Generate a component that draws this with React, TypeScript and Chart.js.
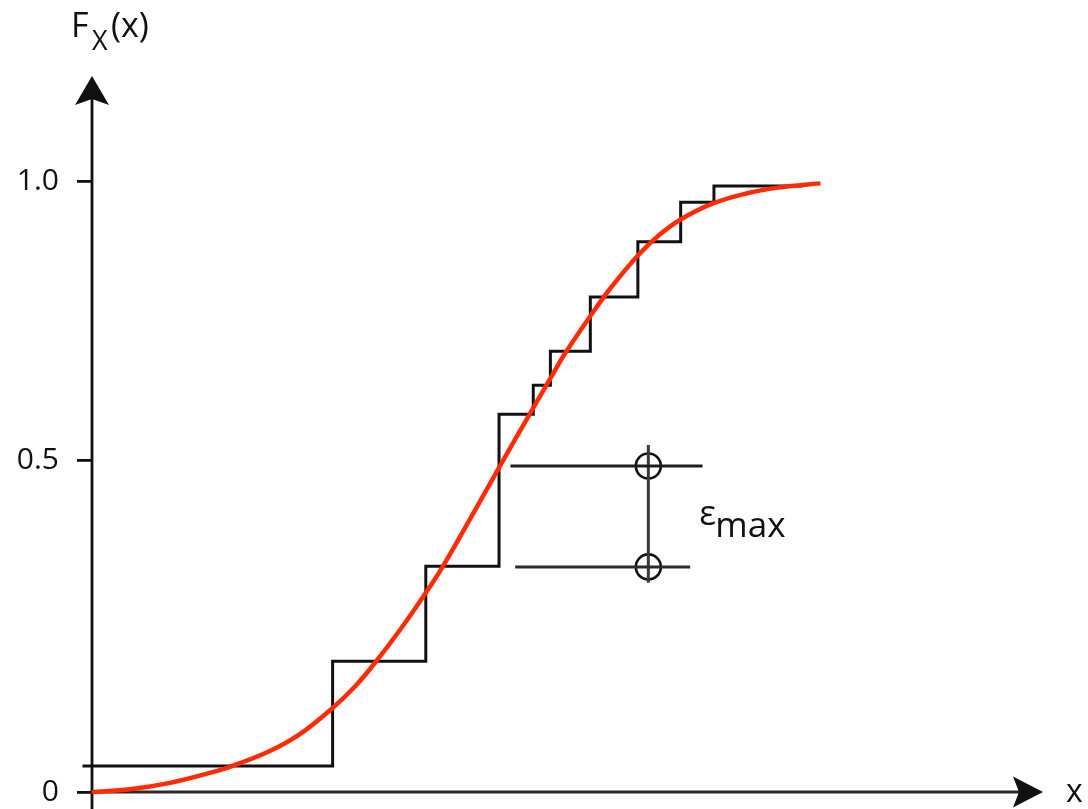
import React, { useEffect, useRef } from 'react';
import { Chart, LinearScale, registerables } from 'chart.js';

// ---- data ----
const Y_TICK_VALUES = [0, 0.5, 1.0];
const Y_TICK_LABELS = ['0', '0.5', '1.0'];

// empirical CDF: jump positions and levels
const STEP_X = [-0.1, 2.53, 3.51, 4.28, 4.64, 4.82, 5.24, 5.74, 6.19, 6.54, 7.47];
const STEP_Y = [0.039, 0.197, 0.34, 0.582, 0.634, 0.695, 0.792, 0.891, 0.962, 0.991, 0.991];

// theoretical CDF (red curve)
const CURVE_X = [0, 0.4, 0.82, 1.24, 1.48, 1.87, 2.19, 2.53, 2.77, 2.97, 3.24, 3.5, 3.69, 3.97, 4.28, 4.61, 4.82, 4.97, 5.24, 5.45, 5.74, 5.97, 6.19, 6.53, 6.89, 7.23, 7.66];
const CURVE_Y = [0, 0.0041, 0.0137, 0.0288, 0.0395, 0.0617, 0.0875, 0.1265, 0.1596, 0.1935, 0.2444, 0.2979, 0.3399, 0.4098, 0.4884, 0.5846, 0.6462, 0.6898, 0.7579, 0.8073, 0.8665, 0.9039, 0.931, 0.9597, 0.978, 0.9885, 0.9957];

// epsilon max marker
const EPS_X = 5.85;
const EPS_UPPER = 0.491;
const EPS_LOWER = 0.339;
const EPS_UPPER_SPAN = [4.4, 6.42];
const EPS_LOWER_SPAN = [4.45, 6.29];
const EPS_BAR = [0.527, 0.315];

// ---- axis geometry: the schematic's value axis is drawn with unequal spacing ----
const KNOT_VALUES = [0, 0.5, 1.0];
const KNOT_FRACS = [0, 0.4637, 0.8534];

function valueToFrac(v: number): number {
  const n = KNOT_VALUES.length;
  let i = 0;
  if (v >= KNOT_VALUES[n - 1]) i = n - 2;
  else while (i < n - 2 && v > KNOT_VALUES[i + 1]) i++;
  const v0 = KNOT_VALUES[i], v1 = KNOT_VALUES[i + 1];
  const f0 = KNOT_FRACS[i], f1 = KNOT_FRACS[i + 1];
  return f0 + ((v - v0) * (f1 - f0)) / (v1 - v0);
}
function fracToValue(f: number): number {
  const n = KNOT_FRACS.length;
  let i = 0;
  if (f >= KNOT_FRACS[n - 1]) i = n - 2;
  else while (i < n - 2 && f > KNOT_FRACS[i + 1]) i++;
  const v0 = KNOT_VALUES[i], v1 = KNOT_VALUES[i + 1];
  const f0 = KNOT_FRACS[i], f1 = KNOT_FRACS[i + 1];
  return v0 + ((f - f0) * (v1 - v0)) / (f1 - f0);
}
const Y_MAX = fracToValue(1);

class KinkedScale extends LinearScale {
  static id = 'kinked';
  static defaults = {};
  getPixelForValue(value: any) {
    if (value === null || value === undefined || isNaN(value)) return NaN;
    return this.getPixelForDecimal(valueToFrac(+value));
  }
  getValueForPixel(pixel: number) {
    return fracToValue(this.getDecimalForPixel(pixel));
  }
}

Chart.register(...registerables, KinkedScale as any);

const FONT = '"Open Sans", "DejaVu Sans", sans-serif';
const INK = '#111';

const decorPlugin = {
  id: 'decor',
  beforeDatasetsDraw(chart: any) {
    const { ctx, chartArea, scales } = chart;
    const x0 = scales.x.getPixelForValue(0);
    const y0 = scales.y.getPixelForValue(0);
    ctx.save();
    ctx.strokeStyle = INK;
    ctx.fillStyle = INK;
    ctx.lineWidth = 2.8;
    // y axis with arrow
    const top = chartArea.top;
    ctx.beginPath();
    ctx.moveTo(x0, chart.height);
    ctx.lineTo(x0, top + 12);
    ctx.stroke();
    ctx.beginPath();
    ctx.moveTo(x0, top);
    ctx.lineTo(x0 + 17, top + 29);
    ctx.lineTo(x0, top + 23);
    ctx.lineTo(x0 - 17, top + 29);
    ctx.closePath();
    ctx.fill();
    // x axis with arrow
    const right = chartArea.right;
    ctx.strokeStyle = '#2a2a2a';
    ctx.lineWidth = 3;
    ctx.beginPath();
    ctx.moveTo(x0 - 2, y0);
    ctx.lineTo(right - 12, y0);
    ctx.stroke();
    ctx.beginPath();
    ctx.moveTo(right, y0);
    ctx.lineTo(right - 30, y0 - 15.5);
    ctx.lineTo(right - 24, y0);
    ctx.lineTo(right - 30, y0 + 15.5);
    ctx.closePath();
    ctx.fill();
    ctx.restore();
  },
  afterDraw(chart: any) {
    const { ctx, chartArea, scales } = chart;
    const x0 = scales.x.getPixelForValue(0);
    const y0 = scales.y.getPixelForValue(0);
    ctx.save();
    ctx.fillStyle = INK;
    ctx.textAlign = 'left';
    ctx.textBaseline = 'alphabetic';
    // y axis title F_X(x)
    ctx.font = `34px ${FONT}`;
    ctx.fillText('F', x0 - 21, 37);
    ctx.font = `27px ${FONT}`;
    ctx.fillText('X', x0, 50);
    ctx.font = `34px ${FONT}`;
    ctx.fillText('(x)', x0 + 19, 37);
    // x axis title
    ctx.font = `32px ${FONT}`;
    ctx.fillText('x', chartArea.right + 23, y0 + 10);
    // epsilon max label
    const ex = scales.x.getPixelForValue(EPS_X);
    const em = (scales.y.getPixelForValue(EPS_UPPER) + scales.y.getPixelForValue(EPS_LOWER)) / 2;
    ctx.font = `35px ${FONT}`;
    ctx.fillText('ε', ex + 51, em + 9);
    ctx.fillText('max', ex + 67, em + 21);
    ctx.restore();
  },
};

export default function App() {
  const ref = useRef<HTMLCanvasElement | null>(null);
  useEffect(() => {
    if (!ref.current) return;
    const pts = (xs: number[], ys: number[]) => xs.map((x, i) => ({ x, y: ys[i] }));
    const chart = new Chart(ref.current, {
      type: 'line',
      data: {
        datasets: [
          {
            label: 'F(x)',
            data: pts(CURVE_X, CURVE_Y),
            borderColor: '#ff2a06',
            borderWidth: 4.5,
            pointRadius: 0,
            tension: 0.4,
            clip: false,
          } as any,
          {
            label: 'empirical',
            data: pts(STEP_X, STEP_Y),
            borderColor: INK,
            borderWidth: 3,
            pointRadius: 0,
            stepped: 'before',
            clip: false,
          },
          {
            label: 'upper',
            data: pts(EPS_UPPER_SPAN, [EPS_UPPER, EPS_UPPER]),
            borderColor: '#1e1e1e',
            borderWidth: 3,
            pointRadius: 0,
            clip: false,
          },
          {
            label: 'lower',
            data: pts(EPS_LOWER_SPAN, [EPS_LOWER, EPS_LOWER]),
            borderColor: '#2a2a2a',
            borderWidth: 3,
            pointRadius: 0,
            clip: false,
          },
          {
            label: 'bar',
            data: pts([EPS_X, EPS_X], EPS_BAR),
            borderColor: '#3a3a3a',
            borderWidth: 3,
            pointRadius: 0,
            clip: false,
          },
          {
            label: 'marks',
            data: pts([EPS_X, EPS_X], [EPS_UPPER, EPS_LOWER]),
            showLine: false,
            pointStyle: 'circle',
            pointRadius: 12.5,
            pointBorderWidth: 2.6,
            pointBorderColor: INK,
            pointBackgroundColor: 'rgba(0,0,0,0)',
            clip: false,
          },
        ],
      },
      options: {
        responsive: false,
        animation: false,
        events: [],
        layout: { padding: { top: 76, right: 45, left: 0, bottom: 0 } },
        plugins: { legend: { display: false }, tooltip: { enabled: false } },
        scales: {
          x: {
            type: 'linear',
            min: 0,
            max: 10,
            ticks: { display: false },
            grid: { display: false },
            border: { display: false },
            afterFit: (s: any) => {
              s.height = 17;
              s.paddingLeft = 0;
              s.paddingRight = 0;
            },
          },
          y: {
            type: 'kinked' as any,
            min: 0,
            max: Y_MAX,
            bounds: 'data',
            ticks: {
              padding: 18,
              color: INK,
              font: { family: FONT, size: 30 },
              callback: (_v: any, i: number) => Y_TICK_LABELS[i],
            },
            grid: {
              display: true,
              drawOnChartArea: false,
              drawTicks: true,
              tickLength: 15,
              color: INK,
              lineWidth: 2.8,
            },
            border: { display: false },
            afterBuildTicks: (s: any) => {
              s.ticks = Y_TICK_VALUES.map((v) => ({ value: v }));
            },
            afterFit: (s: any) => {
              s.width = 92;
              s.paddingTop = 0;
              s.paddingBottom = 0;
            },
          } as any,
        },
      },
      plugins: [decorPlugin],
    });
    return () => chart.destroy();
  }, []);
  return (
    <div style={{ position: 'absolute', left: 0, top: 0, width: 1088, height: 809, background: '#fff' }}>
      <canvas ref={ref} width={1088} height={809} />
    </div>
  );
}
